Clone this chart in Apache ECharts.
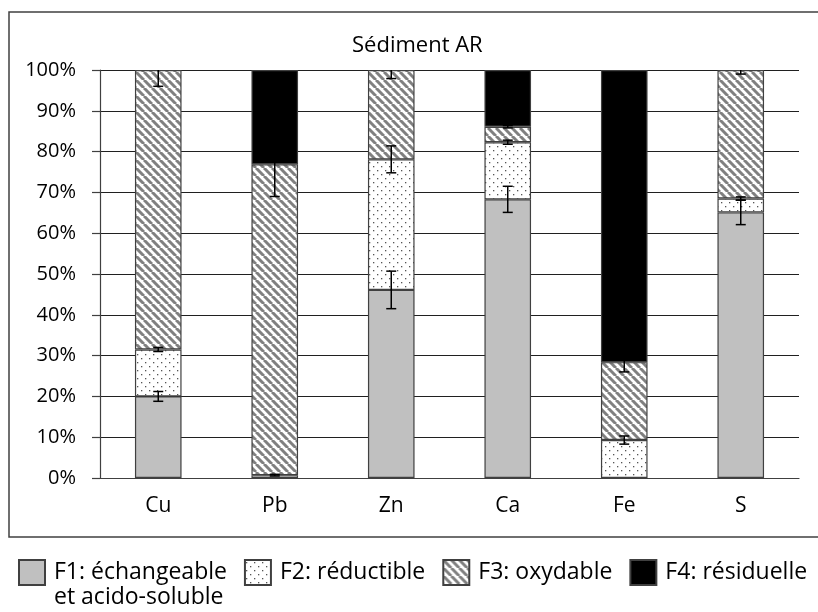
<!DOCTYPE html>
<html>
<head>
    <meta charset="utf-8"/>
    <title>Sédiment AR</title>
    <script src="https://cdn.jsdelivr.net/npm/echarts@6/dist/echarts.min.js"></script>
    <style>
        html, body { margin: 0; padding: 0; background: #fff; }
        #myChart { width: 818px; height: 612px; }
    </style>
</head>
<body>
<div id="myChart"></div>
<script>
    // données (% de chaque fraction)
    var categories = ['Cu', 'Pb', 'Zn', 'Ca', 'Fe', 'S'];
    var seriesNames = ['F1: échangeable', 'F2: réductible', 'F3: oxydable', 'F4: résiduelle'];
    var f1 = [20.0, 0.0, 46.1, 68.3, 0.0, 65.1];
    var f2 = [11.5, 0.7, 32.0, 14.0, 9.3, 3.4];
    var f3 = [68.5, 76.2, 21.9, 3.8, 19.1, 31.5];
    var f4 = [0.0, 23.1, 0.0, 13.9, 71.6, 0.0];
    // barres d'erreur (écart-type)
    var f1Err = [1.2, 0.0, 4.6, 3.2, 0.0, 3.0];
    var f2Err = [0.5, 0.2, 3.3, 0.5, 1.0, 0.4];
    var f3Err = [4.0, 7.9, 2.1, 0.3, 2.4, 1.0];
    var f4Err = [0, 0, 0, 0, 0, 0];
    var yTicks = [0, 10, 20, 30, 40, 50, 60, 70, 80, 90, 100];

    var FONT = '"Open Sans", sans-serif';
    var LINE = '#404040';

    // motifs de remplissage
    function dotPattern() {
        var c = document.createElement('canvas');
        c.width = 8; c.height = 8;
        var ctx = c.getContext('2d');
        ctx.fillStyle = '#fff';
        ctx.fillRect(0, 0, 8, 8);
        ctx.fillStyle = '#555';
        ctx.fillRect(1, 2, 1.3, 1.3);
        ctx.fillRect(5, 6, 1.3, 1.3);
        return c;
    }
    function stripePattern() {
        var s = 8;
        var c = document.createElement('canvas');
        c.width = s; c.height = s;
        var ctx = c.getContext('2d');
        ctx.fillStyle = '#fff';
        ctx.fillRect(0, 0, s, s);
        ctx.strokeStyle = '#808080';
        ctx.lineWidth = 3;
        for (var k = -1; k <= 1; k++) {
            ctx.beginPath();
            ctx.moveTo(k * s, 0);
            ctx.lineTo(k * s + s, s);
            ctx.stroke();
        }
        return c;
    }

    var fills = [
        '#c0c0c0',
        {image: dotPattern(), repeat: 'repeat'},
        {image: stripePattern(), repeat: 'repeat'},
        '#000000'
    ];
    var values = [f1, f2, f3, f4];
    var errors = [f1Err, f2Err, f3Err, f4Err];

    var series = [];
    for (var s = 0; s < 4; s++) {
        series.push({
            name: seriesNames[s],
            type: 'bar',
            stack: 'total',
            barWidth: '40%',
            data: values[s].map(function (v) { return v > 0 ? v : '-'; }),
            itemStyle: {color: fills[s], borderColor: LINE, borderWidth: 1.2},
            emphasis: {disabled: true}
        });
    }

    // barres d'erreur en haut de chaque segment
    var errData = [];
    for (var i = 0; i < categories.length; i++) {
        var cum = 0;
        for (var j = 0; j < 4; j++) {
            cum += values[j][i];
            if (errors[j][i] > 0) {
                errData.push([i, cum, errors[j][i]]);
            }
        }
    }
    series.push({
        type: 'custom',
        data: errData,
        z: 10,
        silent: true,
        renderItem: function (params, api) {
            var x = api.value(0);
            var top = api.value(1);
            var err = api.value(2);
            var hi = Math.min(top + err, 100);
            var lo = Math.max(top - err, 0);
            var pHi = api.coord([x, hi]);
            var pLo = api.coord([x, lo]);
            var w = 5;
            var children = [{
                type: 'line',
                shape: {x1: pHi[0], y1: pHi[1], x2: pLo[0], y2: pLo[1]},
                style: {stroke: '#000', lineWidth: 1.5}
            }, {
                type: 'line',
                shape: {x1: pLo[0] - w, y1: pLo[1], x2: pLo[0] + w, y2: pLo[1]},
                style: {stroke: '#000', lineWidth: 1.5}
            }];
            if (top + err < 100) {
                children.push({
                    type: 'line',
                    shape: {x1: pHi[0] - w, y1: pHi[1], x2: pHi[0] + w, y2: pHi[1]},
                    style: {stroke: '#000', lineWidth: 1.5}
                });
            }
            return {type: 'group', children: children};
        }
    });

    var myChart = echarts.init(document.getElementById('myChart'));
    var option = {
        animation: false,
        backgroundColor: '#fff',
        textStyle: {fontFamily: FONT},
        title: {
            text: 'Sédiment AR',
            left: 347,
            top: 30,
            textStyle: {fontFamily: FONT, fontSize: 22, fontWeight: 'normal', color: '#000'}
        },
        grid: {left: 100, right: 19, top: 70, bottom: 134},
        legend: {
            left: 13,
            top: 530,
            width: 830,
            icon: 'rect',
            itemWidth: 26,
            itemHeight: 25,
            itemGap: 17,
            selectedMode: false,
            data: seriesNames,
            // ligne vide en tête : la 1re ligne du libellé reste centrée sur l'icône
            formatter: function (name) {
                return name === seriesNames[0] ? ' \n' + name + '\net acido-soluble' : name;
            },
            textStyle: {fontFamily: FONT, fontSize: 23, lineHeight: 25, color: '#000', padding: [0, 0, 0, 4]}
        },
        graphic: [{
            type: 'rect',
            shape: {x: 9, y: 12, width: 830, height: 525},
            style: {fill: 'none', stroke: LINE, lineWidth: 1.5},
            silent: true
        }],
        xAxis: {
            type: 'category',
            data: categories,
            axisLine: {lineStyle: {color: LINE, width: 1.2}},
            axisTick: {length: 9, lineStyle: {color: LINE, width: 1.2}},
            axisLabel: {margin: 18, fontFamily: FONT, fontSize: 21, color: '#000'}
        },
        yAxis: {
            type: 'value',
            min: 0,
            max: 100,
            interval: 10,
            axisLine: {show: true, lineStyle: {color: LINE, width: 1.2}},
            axisTick: {show: true, length: 8, lineStyle: {color: LINE, width: 1.2}},
            splitLine: {lineStyle: {color: '#202020', width: 1.2}},
            axisLabel: {
                margin: 24,
                fontFamily: FONT,
                fontSize: 20,
                color: '#000',
                formatter: function (v) {
                    return yTicks.indexOf(v) >= 0 ? v + '%' : '';
                }
            }
        },
        series: series
    };
    myChart.setOption(option);
</script>
</body>
</html>
